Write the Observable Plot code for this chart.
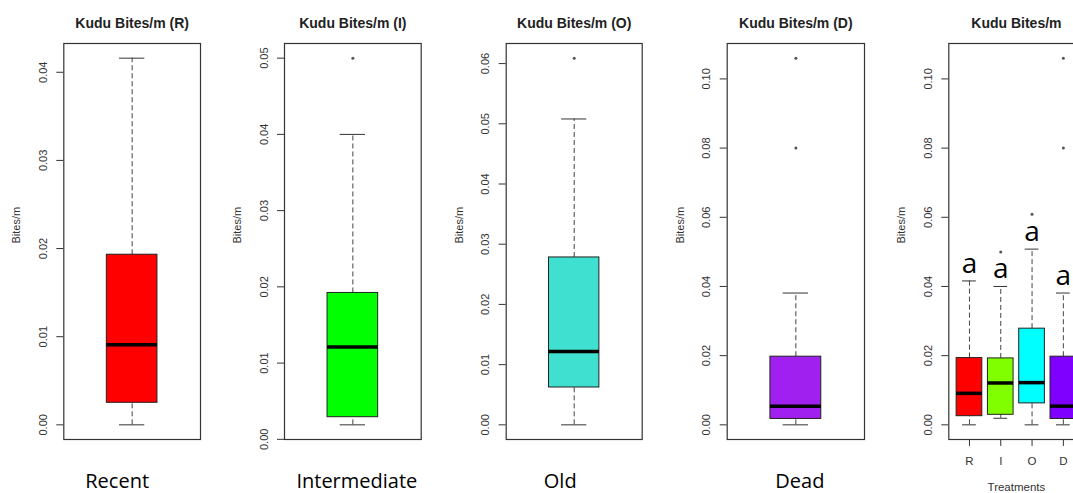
<!DOCTYPE html>
<html>
<head>
<meta charset="utf-8">
<script src="https://cdn.jsdelivr.net/npm/d3@7"></script>
<script src="https://cdn.jsdelivr.net/npm/@observablehq/plot@0.6"></script>
<style>
html, body { margin: 0; padding: 0; background: #fff; }
#chart { position: relative; width: 1073px; height: 493px; overflow: hidden; background: #fff; }
#chart svg { position: absolute; top: 0; }
</style>
</head>
<body>
<div id="chart"></div>
<script>
// ---- data ----
const treatments = ["R", "I", "O", "D"];
const treatmentNames = ["Recent", "Intermediate", "Old", "Dead"];
const singleTitles = ["Kudu Bites/m (R)", "Kudu Bites/m (I)", "Kudu Bites/m (O)", "Kudu Bites/m (D)"];
const combinedTitle = "Kudu Bites/m";
const yLabel = "Bites/m";
const xLabel = "Treatments";
const whiskerLow  = [0.0000, 0.0019, 0.0000, 0.0000];
const q1          = [0.0025, 0.0029, 0.0062, 0.0017];
const median      = [0.0091, 0.0121, 0.0122, 0.0054];
const q3          = [0.0193, 0.0192, 0.0278, 0.0197];
const whiskerHigh = [0.0416, 0.0400, 0.0508, 0.0381];
const outliers = [[], [0.0500], [0.0609], [0.0800, 0.1060]];
const letters = ["a", "a", "a", "a"];
const singleTicks = [
  [0, 0.01, 0.02, 0.03, 0.04],
  [0, 0.01, 0.02, 0.03, 0.04, 0.05],
  [0, 0.01, 0.02, 0.03, 0.04, 0.05, 0.06],
  [0, 0.02, 0.04, 0.06, 0.08, 0.10]
];
const combinedTicks = [0, 0.02, 0.04, 0.06, 0.08, 0.10];
const singleColors = ["#FF0000", "#00FF00", "#40E0D0", "#A020F0"];
const combinedColors = ["#FF0000", "#80FF00", "#00FFFF", "#8000FF"];

// ---- layout (pixels) ----
const panelLeft = [0, 220, 440, 660, 880];
const panelWidth = 220;
const frameLeft = [63.3, 284, 505.7, 726.7, 948.3];
const frameRight = [200, 420.7, 641.7, 864, 1083.5];
const nameDx = [-15, 4, -14, 4];
const FONT = "'Liberation Sans', Arial, sans-serif";
const WORDFONT = "'Open Sans', sans-serif";

function rowsFor(indices, colors) {
  return indices.map((i, k) => ({
    pos: k + 1, idx: i, lo: whiskerLow[i], q1: q1[i], med: median[i], q3: q3[i], hi: whiskerHigh[i], color: colors[i]
  }));
}
function outRows(indices) {
  return indices.flatMap((i, k) => outliers[i].map(v => ({pos: k + 1, value: v})));
}
function yDomain(indices) {
  const vals = indices.flatMap(i => [whiskerLow[i], whiskerHigh[i], ...outliers[i]]);
  const lo = d3.min(vals), hi = d3.max(vals), pad = (hi - lo) * 0.04;
  return [lo - pad, hi + pad];
}
function xDomain(n) {
  const pad = n * 0.04;
  return [0.5 - pad, n + 0.5 + pad];
}
function boxMarks(rows, outs, hw, cw) {
  return [
    Plot.ruleX(rows, {x: "pos", y1: "q3", y2: "hi", stroke: "#444", strokeDasharray: "5,3"}),
    Plot.ruleX(rows, {x: "pos", y1: "lo", y2: "q1", stroke: "#444", strokeDasharray: "5,3"}),
    Plot.ruleY(rows, {y: "hi", x1: d => d.pos - cw, x2: d => d.pos + cw, stroke: "#333"}),
    Plot.ruleY(rows, {y: "lo", x1: d => d.pos - cw, x2: d => d.pos + cw, stroke: "#333"}),
    Plot.rect(rows, {x1: d => d.pos - hw, x2: d => d.pos + hw, y1: "q1", y2: "q3", fill: "color", stroke: "#222", strokeWidth: 1}),
    Plot.ruleY(rows, {y: "med", x1: d => d.pos - hw, x2: d => d.pos + hw, stroke: "#000", strokeWidth: 3.5}),
    Plot.dot(outs, {x: "pos", y: "value", r: 1.5, fill: "#555", stroke: "none"})
  ];
}
function commonMarks(title, ticks) {
  return [
    Plot.axisY({ticks, tickFormat: d3.format(".2f"), tickRotate: -90, tickSize: 7, tickPadding: 10, fontSize: 11, label: null}),
    Plot.frame({stroke: "#333", strokeWidth: 1.2}),
    Plot.text([title], {frameAnchor: "top", dy: -25, fontWeight: "bold", fontSize: 14, fill: "#222", fontFamily: FONT}),
    Plot.text([yLabel], {frameAnchor: "left", dx: -47, dy: 2, rotate: -90, fontSize: 11, fill: "#333", fontFamily: FONT})
  ];
}

const chart = document.getElementById("chart");

// single panels
treatments.forEach((t, i) => {
  const rows = rowsFor([i], singleColors);
  const outs = outRows([i]);
  const svg = Plot.plot({
    width: panelWidth, height: 493,
    marginTop: 43, marginBottom: 54,
    marginLeft: frameLeft[i] - panelLeft[i],
    marginRight: panelLeft[i] + panelWidth - frameRight[i],
    style: `font-family: ${FONT}; font-size: 11px; color: #333; background: transparent; overflow: visible; max-width: none;`,
    x: {domain: xDomain(1), axis: null},
    y: {domain: yDomain([i])},
    color: {type: "identity"},
    marks: [
      ...boxMarks(rows, outs, 0.2, 0.1),
      ...commonMarks(singleTitles[i], singleTicks[i]),
      Plot.text([treatmentNames[i]], {frameAnchor: "bottom", dy: 48.5, dx: nameDx[i], fontSize: 20, fill: "#000", fontFamily: WORDFONT})
    ]
  });
  svg.style.left = panelLeft[i] + "px";
  chart.appendChild(svg);
});

// combined panel
{
  const p = 4;
  const idx = [0, 1, 2, 3];
  const rows = rowsFor(idx, combinedColors);
  const outs = outRows(idx);
  const svg = Plot.plot({
    width: panelWidth, height: 493,
    marginTop: 43, marginBottom: 54,
    marginLeft: frameLeft[p] - panelLeft[p],
    marginRight: panelLeft[p] + panelWidth - frameRight[p],
    style: `font-family: ${FONT}; font-size: 11px; color: #333; background: transparent; overflow: visible; max-width: none;`,
    x: {domain: xDomain(4)},
    y: {domain: yDomain(idx)},
    color: {type: "identity"},
    marks: [
      ...boxMarks(rows, outs, 0.41, 0.22),
      Plot.axisX({ticks: idx.map(k => k + 1), tickFormat: d => treatments[d - 1], tickSize: 7, tickPadding: 10, fontSize: 11.5, label: null}),
      ...commonMarks(combinedTitle, combinedTicks),
      Plot.text([xLabel], {frameAnchor: "bottom", dy: 51, fontSize: 11.5, fill: "#333", fontFamily: FONT}),
      Plot.text(rows, {x: "pos", y: "hi", text: d => letters[d.idx], dy: -8, lineAnchor: "bottom", fontSize: 28, fill: "#000", fontFamily: WORDFONT})
    ]
  });
  svg.style.left = panelLeft[p] + "px";
  chart.appendChild(svg);
}
</script>
</body>
</html>
